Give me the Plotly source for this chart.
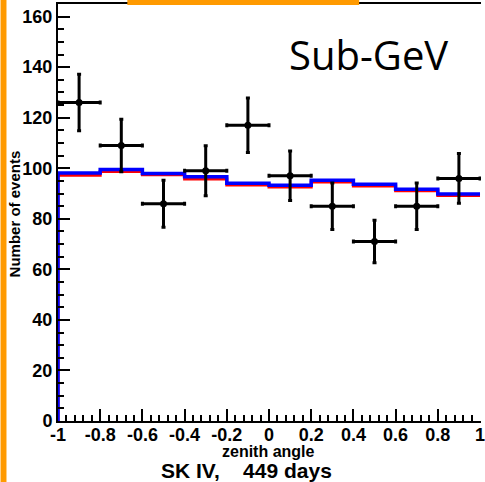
import plotly.graph_objects as go

# ---- data ----
bin_edges = [-1.0, -0.8, -0.6, -0.4, -0.2, 0.0, 0.2, 0.4, 0.6, 0.8, 1.0]
mc_blue = [98.1, 99.5, 97.9, 96.6, 94.1, 93.3, 95.3, 93.7, 91.7, 89.8]
mc_red = [97.2, 98.7, 97.4, 95.8, 93.4, 92.6, 94.6, 93.0, 91.1, 89.2]
data_x = [-0.9, -0.7, -0.5, -0.3, -0.1, 0.1, 0.3, 0.5, 0.7, 0.9]
data_y = [126, 109, 86, 99, 117, 97, 85, 71, 85, 96]
data_err = [11.2, 10.4, 9.3, 9.9, 10.8, 9.8, 9.2, 8.4, 9.2, 9.8]
data_xerr = [0.1] * 10
x_ticks = [-1, -0.8, -0.6, -0.4, -0.2, 0, 0.2, 0.4, 0.6, 0.8, 1]
x_tick_text = ["-1", "-0.8", "-0.6", "-0.4", "-0.2", "0", "0.2", "0.4", "0.6", "0.8", "1"]
y_ticks = [0, 20, 40, 60, 80, 100, 120, 140, 160]

W, H = 485, 482
ML, MR, MT, MB = 58, 0, 4, 61
ORANGE = "#FF9A00"


def hist_xy(edges, vals):
    xs = [edges[0]] + list(edges)
    ys = [0] + list(vals) + [vals[-1]]
    return xs, ys


fig = go.Figure()
rx, ry = hist_xy(bin_edges, mc_red)
bx, by = hist_xy(bin_edges, mc_blue)
fig.add_trace(go.Scatter(x=rx, y=ry, mode="lines", line=dict(color="#FF0000", width=3, shape="hv"),
                         showlegend=False, hoverinfo="skip"))
fig.add_trace(go.Scatter(x=bx, y=by, mode="lines", line=dict(color="#0000FF", width=3.5, shape="hv"),
                         showlegend=False, hoverinfo="skip"))
fig.add_trace(go.Scatter(
    x=data_x, y=data_y, mode="markers",
    marker=dict(color="black", size=7),
    error_y=dict(type="data", array=data_err, color="black", thickness=3, width=2),
    error_x=dict(type="data", array=data_xerr, color="black", thickness=3, width=2),
    showlegend=False))

pw = W - ML - MR
ph = H - MT - MB


def px_x(p):
    return (p - ML) / pw


def px_y(p):
    return (H - MB - p) / ph


tick_font = dict(family="Liberation Sans, Arial, sans-serif", size=18, color="black", weight="bold")

fig.update_xaxes(
    range=[-1, -1 + 2 * (W - ML - MR) / 426.0],
    tickvals=x_ticks, ticktext=x_tick_text,
    ticks="inside", ticklen=12, tickwidth=2, tickcolor="black",
    minor=dict(ticks="inside", ticklen=6, tickwidth=2, tickcolor="black", dtick=0.04, tick0=-1),
    showline=True, linecolor="black", linewidth=2, mirror=True,
    showgrid=False, zeroline=False,
    tickfont=tick_font, ticklabeloverflow="allow", ticklabelstandoff=-4,
)
fig.update_yaxes(
    range=[0, 165],
    tickvals=y_ticks,
    ticks="inside", ticklen=12, tickwidth=2, tickcolor="black",
    minor=dict(ticks="inside", ticklen=6, tickwidth=2, tickcolor="black", dtick=5, tick0=0),
    showline=True, linecolor="black", linewidth=2,
    showgrid=False, zeroline=False,
    tickfont=tick_font,
)

annotations = [
    dict(text="Sub-GeV", x=px_x(371), y=px_y(54), xref="paper", yref="paper", showarrow=False,
         xanchor="center", yanchor="middle",
         font=dict(family="Open Sans, Noto Sans, sans-serif", size=40, color="black")),
    dict(text="Number of events", x=px_x(14), y=px_y(214), xref="paper", yref="paper", showarrow=False,
         textangle=-90, xanchor="center", yanchor="middle",
         font=dict(family="Liberation Sans, Arial, sans-serif", size=15, color="black", weight="bold")),
    dict(text="zenith angle", x=px_x(270), y=px_y(451), xref="paper", yref="paper", showarrow=False,
         xanchor="center", yanchor="middle",
         font=dict(family="Liberation Sans, Arial, sans-serif", size=16, color="black", weight="bold")),
    dict(text="SK IV,\u00a0\u00a0\u00a0\u00a0449 days", x=px_x(248), y=px_y(470), xref="paper", yref="paper",
         showarrow=False, xanchor="center", yanchor="middle",
         font=dict(family="Liberation Sans, Arial, sans-serif", size=21, color="black", weight="bold")),
]

shapes = [
    dict(type="rect", xref="paper", yref="paper", x0=px_x(0), x1=px_x(6), y0=px_y(H + 2), y1=px_y(-2),
         fillcolor=ORANGE, line=dict(width=0), layer="above"),
    dict(type="rect", xref="paper", yref="paper", x0=px_x(128), x1=px_x(362), y0=px_y(5), y1=px_y(-2),
         fillcolor=ORANGE, line=dict(width=0), layer="above"),
]

fig.update_layout(
    width=W, height=H,
    margin=dict(l=ML, r=MR, t=MT, b=MB),
    paper_bgcolor="white", plot_bgcolor="white",
    annotations=annotations, shapes=shapes,
    showlegend=False,
)

fig.write_html("out.html")
